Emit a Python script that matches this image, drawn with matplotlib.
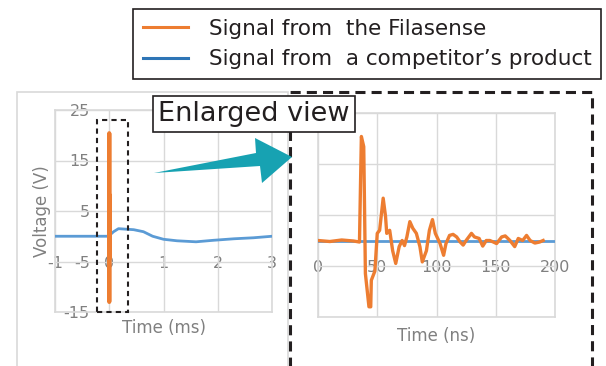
import numpy as np
import matplotlib.pyplot as plt
from matplotlib.patches import Rectangle, Polygon
from matplotlib.lines import Line2D

plt.rcParams['font.family'] = ['DejaVu Sans']
plt.rcParams['axes.unicode_minus'] = False

# Filasense signal (ns, V)
t_ns = [0, 10, 20, 30, 35, 36.6, 38.6, 40, 43, 44.5, 45, 48, 50, 52, 55, 57, 58, 60.5,
        63, 65.6, 68.5, 71, 73, 75, 77.5, 80, 83, 86, 88, 91.5, 94, 96.6, 99, 103,
        106, 108, 111, 114, 117, 120, 122.5, 125, 129.5, 132, 136, 139, 142, 145,
        148, 150.7, 155, 158, 162, 166, 169, 172.7, 176, 179, 183, 187, 190]
v_fila = [0, -0.2, 0.1, -0.1, -0.3, 20.4, 18.4, -6.5, -13, -13, -7.8, -6, 1.4, 2, 8.3,
          4.7, 1.4, 2, -2, -4.5, -1.2, 0, -1, 0.7, 3.7, 2.4, 1.4, -1.2, -4.2, -2, 2,
          4.1, 1.4, -0.6, -2.9, -0.6, 1, 1.2, 0.7, -0.3, -0.9, 0, 1.4, 0.7, 0.4, -1.1,
          0, 0, -0.3, -0.6, 0.7, 0.9, 0, -1.2, 0.4, 0, 1, 0, -0.5, -0.3, 0]

# competitor signal (ms, V)
t_comp = [-1, -0.015, 0.08, 0.17, 0.45, 0.63, 0.8, 1.0, 1.25, 1.6, 1.92, 2.3, 2.66, 3]
v_comp = [0, 0, 0.9, 1.5, 1.3, 0.9, 0, -0.6, -0.9, -1.1, -0.8, -0.5, -0.3, 0]
t_comp_ns = [0, 200]
v_comp_ns = [0, 0]

ms_ticks = [-1, 0, 1, 2, 3]
ns_ticks = [0, 50, 100, 150, 200]
v_ticks = [25, 15, 5, -5, -15]

orange = '#ed7d31'
blue = '#5b9bd5'
grid_c = '#d9d9d9'
label_c = '#808080'
W, H = 606, 366


def fx(px):
    return px / W


def fy(py):
    return 1 - py / H


fig = plt.figure(figsize=(W / 100, H / 100), dpi=100)

# light frame around the left chart
fig.patches.append(Rectangle((fx(17), fy(400)), fx(288) - fx(17), fy(92) - fy(400),
                             transform=fig.transFigure, fill=False, ec=grid_c, lw=1.2))


def style(ax, xlim, xticks):
    ax.set_xlim(*xlim)
    ax.set_ylim(-15, 25)
    ax.set_xticks(xticks)
    ax.set_yticks(v_ticks)
    ax.grid(True, color=grid_c, lw=1)
    ax.set_axisbelow(True)
    for s in ax.spines.values():
        s.set_color(grid_c)
        s.set_linewidth(1.2)
    ax.tick_params(length=0, labelbottom=False, labelleft=False)
    sx = ax.secondary_xaxis(15 / 40)
    sx.set_xticks(xticks)
    sx.spines['bottom'].set_visible(False)
    sx.tick_params(length=0, pad=14, labelsize=11.5, labelcolor=label_c)
    return sx


# left: full view
ax1 = fig.add_axes([fx(55), fy(312), fx(272) - fx(55), fy(110) - fy(312)])
style(ax1, (-1, 3), ms_ticks)
sy = ax1.secondary_yaxis(0.25)
sy.set_yticks(v_ticks)
sy.spines['left'].set_visible(False)
sy.tick_params(length=0, pad=14, labelsize=11.5, labelcolor=label_c)
ax1.plot(t_comp, v_comp, color=blue, lw=2, zorder=3)
ax1.plot(np.array(t_ns) * 1e-6, v_fila, color=orange, lw=3, zorder=4)
ax1.add_patch(Rectangle((-0.22, -15), 0.56, 38.1, fill=False, ec='#231f20', lw=1.5,
                        ls=(0, (2.5, 2)), clip_on=False, zorder=5))
ax1.set_xlabel('Time (ms)', fontsize=12, color=label_c, labelpad=5)
ax1.set_ylabel('Voltage (V)', fontsize=12, color=label_c, labelpad=3)

# right: enlarged view
ax2 = fig.add_axes([fx(318), fy(317), fx(555) - fx(318), fy(113) - fy(317)])
style(ax2, (0, 200), ns_ticks)
ax2.plot(t_comp_ns, v_comp_ns, color=blue, lw=2, zorder=3)
ax2.plot(t_ns, v_fila, color=orange, lw=2.4, zorder=4)
ax2.set_xlabel('Time (ns)', fontsize=12, color=label_c, labelpad=7)

# big dashed box around the enlarged view
fig.patches.append(Rectangle((fx(290), fy(400)), fx(592) - fx(290), fy(92) - fy(400),
                             transform=fig.transFigure, fill=False, ec='#231f20', lw=2.2,
                             ls=(0, (3.3, 2)), zorder=6))

# teal arrow
arrow_px = [(154, 173), (256, 153), (255, 138), (292, 157), (262, 183), (260, 166)]
fig.patches.append(Polygon([(fx(x), fy(y)) for x, y in arrow_px], closed=True,
                           transform=fig.transFigure, fc='#17a2b2', ec='none', zorder=7))

fig.text(fx(158), fy(114), 'Enlarged view', fontsize=19.5, color='#231f20', va='center',
         ha='left', zorder=10,
         bbox=dict(boxstyle='square,pad=0.2', fc='white', ec='#231f20', lw=1.2))

handles = [Line2D([], [], color=orange, lw=2.2), Line2D([], [], color='#2e75b6', lw=2.2)]
leg = fig.legend(handles, ['Signal from  the Filasense', 'Signal from  a competitor\u2019s product'],
                 loc='upper right', bbox_to_anchor=(fx(601), fy(9)), fontsize=15.5,
                 frameon=True, fancybox=False, edgecolor='#231f20', framealpha=1,
                 handlelength=2.1, handletextpad=0.95, labelspacing=0.5, borderpad=0.45,
                 borderaxespad=0)
leg.get_frame().set_linewidth(1.2)
for t in leg.get_texts():
    t.set_color('#231f20')

fig.savefig('out.png', dpi=100)
